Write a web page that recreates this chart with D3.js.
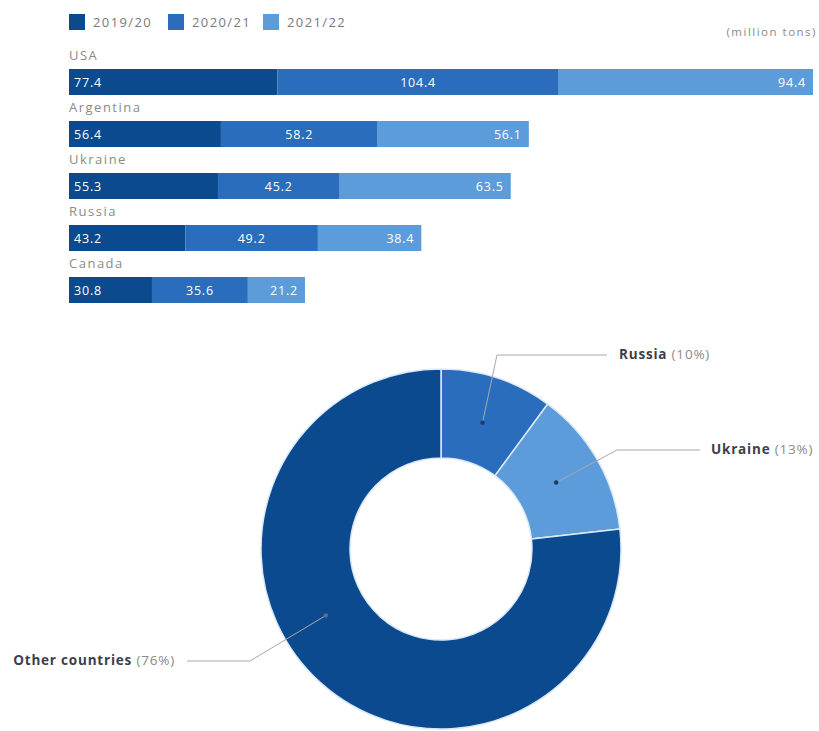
<!DOCTYPE html>
<html>
<head>
<meta charset="utf-8">
<script src="https://cdn.jsdelivr.net/npm/d3@7"></script>
<style>
  html, body { margin: 0; padding: 0; background: #ffffff; }
  svg { display: block; font-family: "Open Sans", "Noto Sans", sans-serif; }
</style>
</head>
<body>
<svg id="chart" width="819" height="731"></svg>
<script>
// Top exporters, stacked by marketing year (million tons)
const countries = ["USA", "Argentina", "Ukraine", "Russia", "Canada"];
const seasons = ["2019/20", "2020/21", "2021/22"];
const values2019 = [77.4, 56.4, 55.3, 43.2, 30.8];
const values2020 = [104.4, 58.2, 45.2, 49.2, 35.6];
const values2021 = [94.4, 56.1, 63.5, 38.4, 21.2];

// Share of world exports (%)
const shareNames = ["Russia", "Ukraine", "Other countries"];
const shareValues = [10, 13, 76];

const barColors = ["#0b4a8f", "#2a6dbc", "#5c9cdb"];
const pieColors = ["#2a6dbc", "#5c9cdb", "#0b4a8f"];

const svg = d3.select("#chart");

// ---- Legend ----
const legend = svg.append("g").attr("class", "legend");
const legendX = [69, 168, 263];
seasons.forEach((s, i) => {
  legend.append("rect")
    .attr("x", legendX[i]).attr("y", 14)
    .attr("width", 16).attr("height", 16)
    .attr("fill", barColors[i]);
  legend.append("text")
    .attr("x", legendX[i] + 24).attr("y", 27)
    .attr("font-size", 13).attr("fill", "#7a7a7a")
    .attr("letter-spacing", 1.4)
    .text(s);
});

svg.append("text")
  .attr("x", 817).attr("y", 36)
  .attr("text-anchor", "end")
  .attr("font-size", 11.5).attr("fill", "#8a8a8a")
  .attr("letter-spacing", 1.5)
  .text("(million tons)");

// ---- Stacked bars ----
const rows = countries.map((c, i) => ({
  country: c,
  "2019/20": values2019[i],
  "2020/21": values2020[i],
  "2021/22": values2021[i]
}));
const stack = d3.stack().keys(seasons)(rows);
const maxTotal = d3.max(rows, r => r["2019/20"] + r["2020/21"] + r["2021/22"]);

const x = d3.scaleLinear().domain([0, maxTotal]).range([69, 813]);
// each row: label above a 26px bar, 52px pitch
const rowTop = c => 69 + countries.indexOf(c) * 52;
const barH = 26;

const barsG = svg.append("g");
countries.forEach(c => {
  barsG.append("text")
    .attr("x", 69).attr("y", rowTop(c) - 9)
    .attr("font-size", 13).attr("fill", "#8a8a8a")
    .attr("letter-spacing", 1.5)
    .text(c);
});

stack.forEach((layer, si) => {
  const g = barsG.append("g");
  g.selectAll("rect").data(layer).join("rect")
    .attr("x", d => x(d[0]))
    .attr("y", d => rowTop(d.data.country))
    .attr("width", d => x(d[1]) - x(d[0]))
    .attr("height", barH)
    .attr("fill", barColors[si]);
  g.selectAll("text").data(layer).join("text")
    .attr("x", d => si === 0 ? x(d[0]) + 5 : si === 1 ? (x(d[0]) + x(d[1])) / 2 : x(d[1]) - 7)
    .attr("y", d => rowTop(d.data.country) + barH / 2 + 4.5)
    .attr("text-anchor", si === 0 ? "start" : si === 1 ? "middle" : "end")
    .attr("font-size", 12.5).attr("fill", "#ffffff")
    .attr("letter-spacing", 0.8)
    .text(d => (d[1] - d[0]).toFixed(1));
});

// ---- Donut ----
const cx = 441, cy = 549;
const outerR = 180, innerR = 91;
const pie = d3.pie().sort(null).value(d => d.v);
const arcs = pie(shareNames.map((n, i) => ({ name: n, v: shareValues[i] })));
const arc = d3.arc().innerRadius(innerR).outerRadius(outerR);

const donut = svg.append("g").attr("transform", `translate(${cx},${cy})`);
donut.selectAll("path").data(arcs).join("path")
  .attr("d", arc)
  .attr("fill", (d, i) => pieColors[i])
  .attr("stroke", "#dbe9f7").attr("stroke-width", 1.5);

// leader lines: dot inside slice -> elbow -> end of horizontal run
const leaderR = 133;
const leaders = [
  { angle: null, elbow: [497, 355], end: 607, textX: 619, textY: 359, anchor: "start" },
  { angle: null, elbow: [617, 450], end: 700, textX: 711, textY: 454, anchor: "start" },
  { angle: 240 * Math.PI / 180, elbow: [250, 661], end: 187, textX: 175, textY: 665, anchor: "end" }
];

arcs.forEach((a, i) => {
  const L = leaders[i];
  const ang = L.angle !== null ? L.angle : (a.startAngle + a.endAngle) / 2;
  const dx = cx + leaderR * Math.sin(ang);
  const dy = cy - leaderR * Math.cos(ang);
  svg.append("polyline")
    .attr("points", `${dx},${dy} ${L.elbow[0]},${L.elbow[1]} ${L.end},${L.elbow[1]}`)
    .attr("fill", "none").attr("stroke", "#a8a8a8").attr("stroke-width", 1);
  svg.append("circle")
    .attr("cx", dx).attr("cy", dy).attr("r", 2.2)
    .attr("fill", i === 2 ? "#5a6f8e" : "#1f3b63");
  const t = svg.append("text")
    .attr("x", L.textX).attr("y", L.textY)
    .attr("text-anchor", L.anchor)
    .attr("font-size", 13.5)
    .attr("letter-spacing", 0.8);
  t.append("tspan").attr("font-weight", 700).attr("fill", "#3b3f4c").text(a.data.name);
  t.append("tspan").attr("fill", "#8a8a8a").text(` (${a.data.v}%)`);
});
</script>
</body>
</html>
